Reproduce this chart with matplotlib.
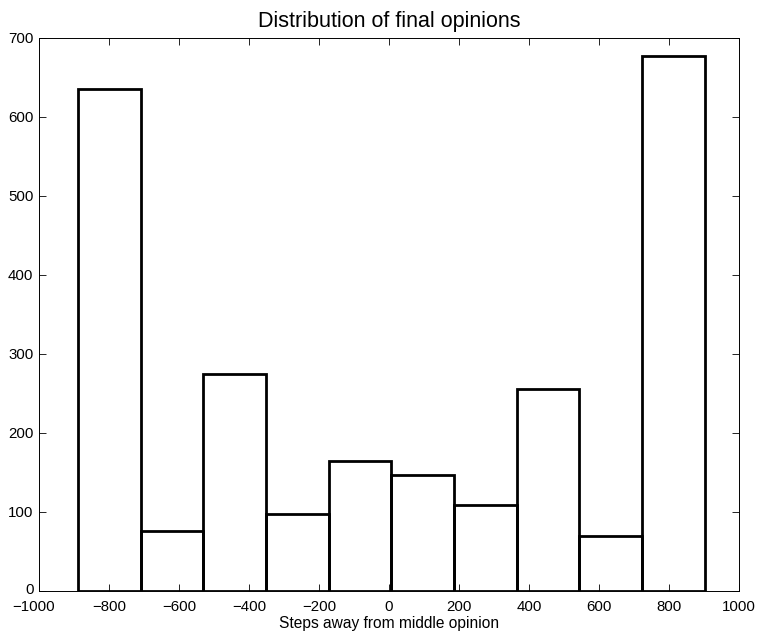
import numpy as np
import matplotlib.transforms as mtransforms
from matplotlib import pyplot as plt

# histogram of final opinions, 10 bins
edges = [-888, -709, -530, -351, -172, 7, 186, 365, 544, 723, 902]
counts = [635, 76, 274, 97, 164, 146, 108, 255, 69, 677]

plt.rcParams['font.family'] = ['Liberation Sans', 'DejaVu Sans']

fig = plt.figure(figsize=(7.57, 6.31), dpi=100, facecolor='w')
ax = fig.add_axes([0.0515, 0.0639, 0.9245, 0.8763])

widths = np.diff(edges)
ax.bar(edges[:-1], counts, width=widths, align='edge', fill=False,
       edgecolor='black', linewidth=2.0)

ax.set_xlim(-1000, 1000)
ax.set_ylim(0, 700)
ax.set_xticks(range(-1000, 1001, 200))
ax.set_yticks(range(0, 701, 100))
ax.tick_params(direction='in', top=True, right=True, length=5, width=0.6,
               labelsize=10.8)
ax.tick_params(axis='x', pad=6.5)
ax.tick_params(axis='y', pad=4)
for s in ax.spines.values():
    s.set_linewidth(0.7)

# nudge the corner labels apart a little like the original
first = ax.get_xticklabels()[0]
first.set_transform(first.get_transform() +
                    mtransforms.ScaledTranslation(-4 / 72, 0, fig.dpi_scale_trans))
zero = ax.get_yticklabels()[0]
zero.set_transform(zero.get_transform() +
                   mtransforms.ScaledTranslation(0, 1.5 / 72, fig.dpi_scale_trans))

ax.set_title("Distribution of final opinions", fontsize=15.5, pad=8)
ax.set_xlabel("Steps away from middle opinion", fontsize=11.2, labelpad=2)

plt.savefig('out.png', dpi=100)
